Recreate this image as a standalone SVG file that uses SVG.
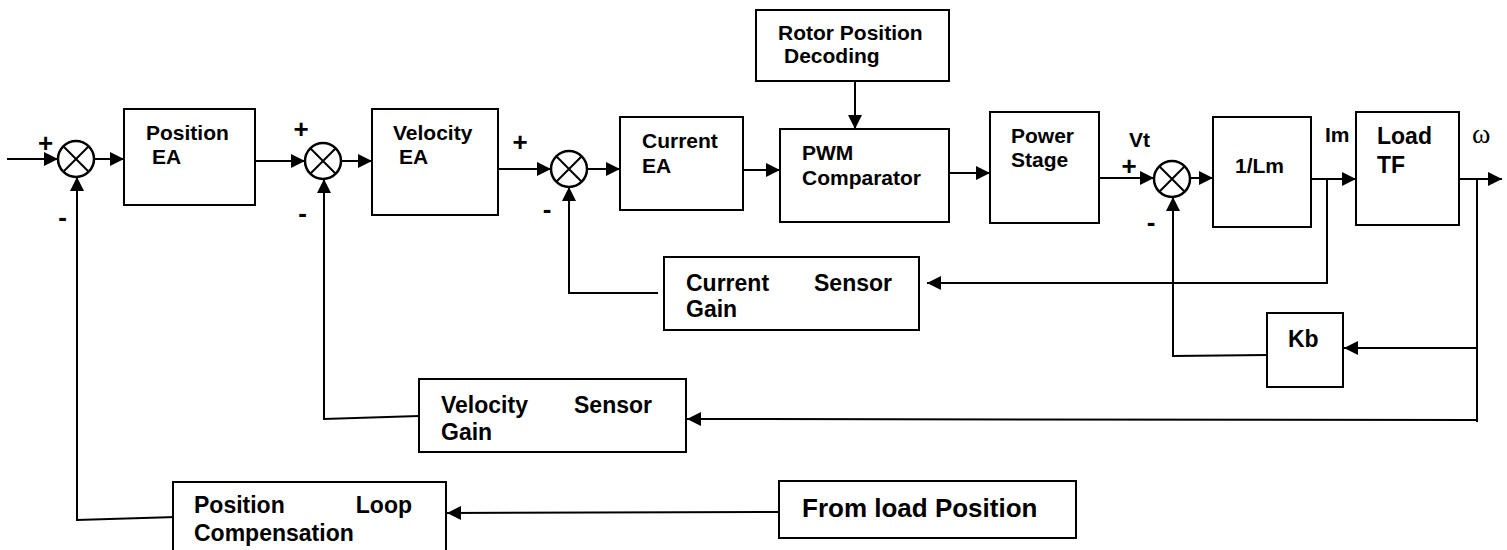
<svg xmlns="http://www.w3.org/2000/svg" width="1507" height="550" viewBox="0 0 1507 550">
<style>
.box{fill:#fff;stroke:#000;stroke-width:2}
.t{font-family:"Liberation Sans",Arial,sans-serif;font-weight:bold;font-size:21px;fill:#000}
.tb{font-family:"Liberation Sans",Arial,sans-serif;font-weight:bold;font-size:23px;fill:#000}
.sg{font-family:"Liberation Sans",Arial,sans-serif;font-weight:bold;font-size:26px;fill:#000;text-anchor:middle}
.w{font-family:"Liberation Serif","Times New Roman",serif;font-size:28px;fill:#000}
.ln{fill:none;stroke:#000;stroke-width:2}
.sum{fill:#fff;stroke:#000;stroke-width:2.5}
</style>
<defs>
<marker id="ah" markerUnits="userSpaceOnUse" markerWidth="15" markerHeight="14" refX="14" refY="7" orient="auto">
<path d="M0,0 L14,7 L0,14 z" fill="#000"/>
</marker>
</defs>
<g id="connectors">
<path class="ln" d="M7,159 L58,159" marker-end="url(#ah)"/>
<path class="ln" d="M94,159 L124,159" marker-end="url(#ah)"/>
<path class="ln" d="M251,161 L305,161" marker-end="url(#ah)"/>
<path class="ln" d="M341,161 L372,161" marker-end="url(#ah)"/>
<path class="ln" d="M498,169 L551,169" marker-end="url(#ah)"/>
<path class="ln" d="M587,169 L620,169" marker-end="url(#ah)"/>
<path class="ln" d="M736,170 L780,170" marker-end="url(#ah)"/>
<path class="ln" d="M855,81 L855,129" marker-end="url(#ah)"/>
<path class="ln" d="M942,173 L990,173" marker-end="url(#ah)"/>
<path class="ln" d="M1099,178 L1154,178" marker-end="url(#ah)"/>
<path class="ln" d="M1190,178 L1213,178" marker-end="url(#ah)"/>
<path class="ln" d="M1311,179 L1356,179" marker-end="url(#ah)"/>
<path class="ln" d="M1456,179 L1502,179" marker-end="url(#ah)"/>
<path class="ln" d="M1327,179 L1327,283 L927,283" marker-end="url(#ah)"/>
<path class="ln" d="M658,293 L569,293 L569,187" marker-end="url(#ah)"/>
<path class="ln" d="M1477,179 L1477,422"/>
<path class="ln" d="M1477,348 L1344,348" marker-end="url(#ah)"/>
<path class="ln" d="M1267,355 L1173,356 L1173,197" marker-end="url(#ah)"/>
<path class="ln" d="M1477,420 L687,419" marker-end="url(#ah)"/>
<path class="ln" d="M419,416 L324,419 L324,179" marker-end="url(#ah)"/>
<path class="ln" d="M784,512 L447,513" marker-end="url(#ah)"/>
<path class="ln" d="M176,517 L77,520 L77,177" marker-end="url(#ah)"/>
</g>
<g id="sum1">
<circle class="sum" cx="76" cy="159" r="18"/>
<path class="ln" d="M63.3,146.3 L88.7,171.7 M88.7,146.3 L63.3,171.7"/>
<text class="sg" x="45.5" y="152">+</text>
<text class="sg" x="62.5" y="226">-</text>
</g>
<g id="sum2">
<circle class="sum" cx="323" cy="161" r="18"/>
<path class="ln" d="M310.3,148.3 L335.7,173.7 M335.7,148.3 L310.3,173.7"/>
<text class="sg" x="301" y="138">+</text>
<text class="sg" x="302.5" y="222">-</text>
</g>
<g id="sum3">
<circle class="sum" cx="569" cy="169" r="18"/>
<path class="ln" d="M556.3,156.3 L581.7,181.7 M581.7,156.3 L556.3,181.7"/>
<text class="sg" x="520" y="151">+</text>
<text class="sg" x="547" y="218">-</text>
</g>
<g id="sum4">
<circle class="sum" cx="1172" cy="179" r="18"/>
<path class="ln" d="M1159.3,166.3 L1184.7,191.7 M1184.7,166.3 L1159.3,191.7"/>
<text class="sg" x="1129" y="174.5">+</text>
<text class="sg" x="1151" y="231">-</text>
</g>
<g id="position-ea">
<rect class="box" x="124" y="109" width="131" height="96"/>
<text class="t" x="146" y="140">Position</text>
<text class="t" x="152" y="164">EA</text>
</g>
<g id="velocity-ea">
<rect class="box" x="372" y="109" width="126" height="106"/>
<text class="t" x="393" y="140">Velocity</text>
<text class="t" x="399" y="164">EA</text>
</g>
<g id="current-ea">
<rect class="box" x="620" y="117" width="123" height="93"/>
<text class="t" x="642" y="148">Current</text>
<text class="t" x="642" y="173">EA</text>
</g>
<g id="rotor-position-decoding">
<rect class="box" x="756" y="10" width="193" height="71"/>
<text class="t" x="778" y="40">Rotor Position</text>
<text class="t" x="784" y="63">Decoding</text>
</g>
<g id="pwm-comparator">
<rect class="box" x="780" y="129" width="169" height="93"/>
<text class="t" x="802" y="160">PWM</text>
<text class="t" x="802" y="185">Comparator</text>
</g>
<g id="power-stage">
<rect class="box" x="990" y="112" width="109" height="111"/>
<text class="t" x="1011" y="143">Power</text>
<text class="t" x="1011" y="167">Stage</text>
<text class="t" x="1129" y="147">Vt</text>
</g>
<g id="inv-lm">
<rect class="box" x="1213" y="117" width="98" height="110"/>
<text class="t" x="1235" y="173">1/Lm</text>
<text class="t" x="1325" y="142">Im</text>
</g>
<g id="load-tf">
<rect class="box" x="1356" y="112" width="103" height="113"/>
<text class="tb" x="1377" y="144">Load</text>
<text class="tb" x="1377" y="173">TF</text>
<text class="w" x="1472" y="143">ω</text>
</g>
<g id="current-sensor-gain">
<rect class="box" x="664" y="257" width="255" height="73"/>
<text class="tb" x="686" y="291">Current</text>
<text class="tb" x="892" y="291" text-anchor="end">Sensor</text>
<text class="tb" x="686" y="317">Gain</text>
</g>
<g id="kb">
<rect class="box" x="1267" y="313" width="76" height="74"/>
<text class="tb" x="1288" y="347">Kb</text>
</g>
<g id="velocity-sensor-gain">
<rect class="box" x="419" y="379" width="267" height="73"/>
<text class="tb" x="441" y="413">Velocity</text>
<text class="tb" x="652" y="413" text-anchor="end">Sensor</text>
<text class="tb" x="441" y="440">Gain</text>
</g>
<g id="position-loop-compensation">
<rect class="box" x="173" y="482" width="273" height="75"/>
<text class="tb" x="194" y="513">Position</text>
<text class="tb" x="412" y="513" text-anchor="end">Loop</text>
<text class="tb" x="194" y="541">Compensation</text>
</g>
<g id="from-load-position">
<rect class="box" x="779" y="481" width="297" height="57"/>
<text class="tb" x="802" y="517" style="font-size:26px">From load Position</text>
</g>
</svg>
